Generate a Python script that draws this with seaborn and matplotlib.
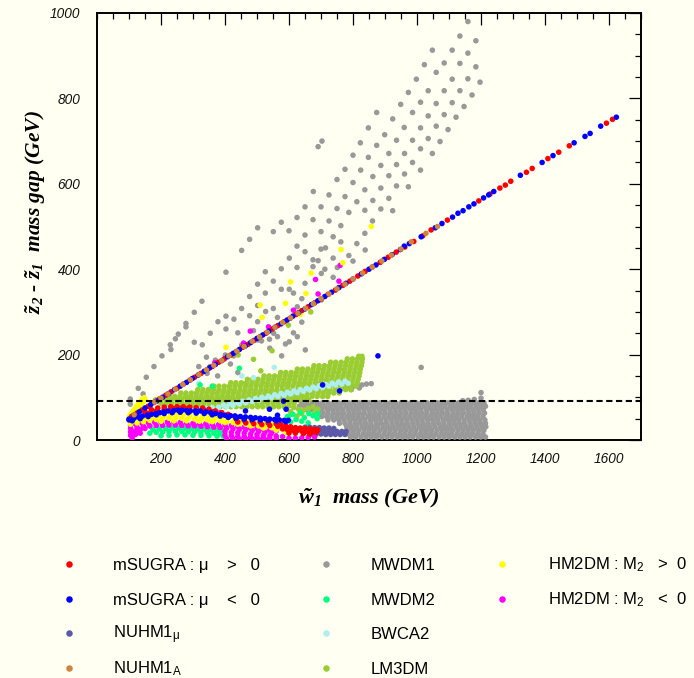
import matplotlib
matplotlib.use("Agg")
import matplotlib.pyplot as plt
from matplotlib.ticker import MultipleLocator
import pandas as pd
import seaborn as sns

# ---------------------------------------------------------------- data
# (wino mass, z2-z1 mass gap) in GeV for every scanned model point

msugra_pos_line = [(108,55),(125,63),(140,70),(160,79),(178,88),(195,96),(215,105),(232,113),(250,121),
    (270,131),(290,140),(305,147),(325,156),(345,165),(360,172),(380,182),(398,190),(418,199),(435,207),
    (455,217),(472,224),(490,233),(510,242),(528,250),(548,260),(565,268),(585,277),(603,285),(622,294),
    (640,303),(660,312),(680,321),(700,330),(722,341),(745,351),(768,362),(790,372),(815,384),(838,395),
    (860,405),(885,416),(910,428),(935,440),(962,452),(990,465),(1018,478),(1044,492),(1095,515),(1193,560),
    (1228,576),(1259,590),(1276,597),(1293,606),(1342,627),(1360,636),(1409,659),(1443,674),(1476,689),
    (1592,742),(1611,751)]
msugra_pos_low = [(150,66),(170,71),(190,75),(210,77),(230,78),(250,78),(270,78),(290,77),(310,76),(330,75),
    (350,72),(370,68),(390,64),(410,60),(430,56),(160,62),(185,68),(210,72),(235,74),(260,74),(285,74),
    (310,72),(335,70),(360,66),(385,60),(410,54),(435,49),(460,46),(485,44),(510,42),(535,40),(560,38),
    (440,42),(465,40),(490,38),(515,36),(540,34),(565,32),(575,36),(590,33),(605,31),(620,29),(635,28),
    (650,27),(665,26),(680,25),(690,24),(580,26),(595,24),(610,23),(625,22),(640,21),(655,20),(670,19),
    (685,18),(600,16),(620,16),(645,15),(665,14)]

msugra_neg_line = [(100,49),(115,58),(132,66),(150,75),(168,83),(186,91),(205,100),(224,109),(242,118),
    (260,126),(280,135),(298,144),(316,152),(335,161),(352,169),(370,177),(390,186),(408,195),(426,203),
    (445,212),(463,220),(480,228),(500,238),(518,246),(537,255),(556,264),(575,272),(594,281),(612,290),
    (630,298),(650,307),(670,317),(690,326),(712,336),(733,346),(756,357),(778,367),(800,377),(826,389),
    (850,400),(872,410),(898,423),(922,434),(948,446),(960,454),(976,460),(1013,476),(1057,497),(1078,507),
    (1111,522),(1128,531),(1144,537),(1162,546),(1178,553),(1208,567),(1224,574),(1240,582),(1323,620),
    (1391,650),(1425,666),(1491,696),(1525,711),(1541,718),(1574,735),(1623,756)]
msugra_neg_low = [(100,47),(116,51),(130,54),(142,56),(157,58),(170,60),(183,62),(196,64),(209,66),(222,68),
    (240,69),(253,70),(266,70),(280,69),(292,68),(308,68),(323,68),(340,66),(355,64),(370,62),(386,60),
    (400,58),(417,57),(432,56),(448,55),(464,54),(480,53),(495,52),(510,51),(525,50),(540,49),(555,48),
    (570,47),(585,46),(598,46),(110,45),(135,50),(160,55),(185,59),(210,62),(235,64),(260,65),(285,64),
    (310,63),(335,62),(360,59),(385,56),(410,53),(435,51),(460,49),(485,48),(510,47),(535,46),(560,45),
    (590,43),(583,91),(464,68),(539,72),(591,72),(705,129),(758,115),(878,197),(564,58)]

nuhm1_mu = [(650,30),(665,30),(680,29),(695,29),(710,28),(725,28),(740,27),(645,22),(660,22),(675,22),
    (690,22),(705,21),(720,21),(735,21),(750,20),(765,20),(778,20),(670,14),(685,14),(700,14),(715,13),
    (730,13),(745,13),(760,13),(775,13)]

nuhm1_a = [(116,59),(180,89),(200,98),(222,108),(245,119),(268,130),(292,141),(318,153),(342,164),(365,175),
    (390,186),(412,197),(437,208),(460,219),(485,231),(508,241),(532,252),(556,264),(580,275),(605,286),
    (628,297),(652,308),(676,319),(700,331),(725,342),(750,354),(775,365),(800,377),(830,391),(860,405),
    (890,419),(920,433),(950,447),(982,464),(1028,484),(1064,500)]

mwdm1_scan = [(1159,980),(1134,946),(1184,935),(1048,913),(1110,913),(1159,906),(1023,879),(1085,883),
    (1134,882),(1184,874),(1060,861),(998,845),(1110,845),(1159,846),(1197,838),(973,814),(1035,818),
    (1085,818),(1134,818),(1172,808),(949,786),(1011,791),(1060,788),(1110,790),(1147,781),(874,767),
    (986,767),(1035,759),(1085,762),(1122,756),(924,752),(848,731),(960,732),(1011,731),(1060,735),
    (1097,727),(899,715),(823,696),(874,690),(936,702),(986,702),(1035,706),(1072,699),(800,667),(848,662),
    (912,671),(961,671),(1011,682),(1048,671),(775,634),(824,632),(887,643),(936,645),(986,650),(1011,632),
    (750,610),(800,603),(862,617),(912,619),(961,623),(725,574),(775,570),(837,586),(887,590),(936,595),
    (973,593),(750,542),(812,558),(862,561),(912,566),(787,533),(837,538),(887,541),(924,537),(691,687),
    (703,700),(676,582),(650,546),(700,546),(576,510),(625,521),(675,516),(502,497),(551,488),(600,490),
    (650,480),(700,488),(477,470),(452,444),(625,454),(601,426),(650,441),(700,447),(675,422),(526,394),
    (576,401),(625,404),(675,406),(712,400),(403,393),(502,365),(551,372),(601,353),(650,367),(477,336),
    (526,344),(576,353),(614,344),(640,331),(452,308),(502,315),(551,308),(328,325),(304,299),(403,290),
    (428,283),(378,277),(477,291),(502,277),(564,287),(278,273),(278,265),(254,248),(245,237),(229,223),
    (231,212),(304,229),(329,223),(354,250),(403,260),(440,251),(489,256),(514,232),(539,236),(564,242),
    (589,225),(614,251),(640,276),(725,513),(762,502),(738,426),(738,381),(838,445),(691,420),(787,432),
    (701,390),(751,404),(800,419),(527,301),(626,312),(701,328),(203,197),(178,172),(154,147),(129,121),
    (104,96),(104,84),(452,222),(502,234),(552,250),(540,215),(577,197),(651,211),(626,242),(601,230),
    (377,150),(427,197),(353,172),(714,450),(738,476),(762,464),(812,460),(837,484),(861,513),(144,108),
    (342,194),(318,172),(401,199),(370,187),(344,156),(440,158),(417,178),(1013,170),(1200,111),(1200,98),
    (1143,92),(1160,93),(1179,95),(772,121),(786,124),(800,126),(814,127),(828,129),(842,131),(857,132),
    (795,118),(820,122)]
mwdm1_band = [
    (87, [640,656,672,689,704,722,738,755,770,787,803,820,836,852,869,884,901,917,933,950,966,981,998,
          1014,1031,1047,1063,1080,1096,1112,1129,1144,1161,1177,1193,1209]),
    (79, [632,648,665,681,697,713,730,746,762,779,794,811,827,843,860,876,892,908,925,941,957,973,990,
          1006,1022,1038,1055,1071,1087,1104,1120,1136,1152,1168,1185,1201,1214]),
    (71, [655,670,688,703,720,736,752,768,785,801,817,834,850,866,883,898,915,931,947,963,980,996,1012,
          1029,1045,1061,1077,1094,1110,1126,1142,1159,1175,1191,1207]),
    (63, [690,706,722,739,755,771,788,804,820,836,853,869,885,901,918,934,950,966,983,999,1015,1031,1048,
          1064,1080,1096,1113,1129,1145,1162,1178,1194,1211]),
    (55, [702,718,734,750,766,783,799,815,831,848,864,880,897,913,929,945,962,978,994,1010,1027,1043,1059,
          1075,1092,1108,1124,1140,1157,1173,1189,1206]),
    (47, [722,740,756,772,789,805,821,837,854,870,886,903,919,935,951,968,984,1000,1016,1033,1049,1065,
          1082,1098,1114,1130,1147,1163,1179,1195,1212]),
    (39, [758,775,791,808,824,840,856,873,889,905,922,938,954,970,987,1003,1019,1035,1052,1068,1084,1101,
          1117,1133,1149,1166,1182,1198,1214]),
    (31, [780,796,812,829,845,861,877,894,910,926,943,959,975,991,1008,1024,1040,1056,1073,1089,1105,1122,
          1138,1154,1170,1187,1203,1215]),
    (23, [786,802,818,835,851,867,884,900,916,932,949,965,981,997,1014,1030,1046,1063,1079,1095,1111,1128,
          1144,1160,1176,1193,1209]),
    (15, [783,799,815,832,848,864,880,897,913,929,946,962,978,994,1011,1027,1043,1059,1076,1092,1108,1125,
          1141,1157,1173,1190,1206]),
    (7,  [792,808,825,841,857,873,890,906,922,939,955,971,987,1004,1020,1036,1052,1069,1085,1101,1118,1134,
          1150,1166,1183,1199,1214]),
]

mwdm2 = [(175,24),(195,26),(215,27),(235,28),(255,28),(275,27),(295,27),(315,26),(335,25),(355,24),(375,23),
    (395,22),(165,16),(185,18),(205,19),(225,20),(245,20),(265,20),(285,19),(305,19),(325,18),(345,17),
    (365,16),(385,15),(200,10),(225,11),(250,12),(275,12),(300,11),(325,11),(350,10),(375,9),(395,9),
    (598,55),(612,60),(622,48),(635,64),(648,52),(660,40),(662,62),(675,57),(688,50),(690,62),(605,42),
    (640,44),(595,55),(322,129),(360,126),(445,168)]

bwca2 = [(395,82),(415,85),(435,88),(455,91),(475,94),(495,97),(515,100),(535,103),(555,106),(575,109),
    (595,112),(615,115),(635,118),(655,121),(675,124),(695,127),(715,130),(735,133),(755,136),(775,138),
    (405,78),(425,81),(445,84),(465,87),(485,90),(505,93),(525,96),(545,99),(565,102),(585,105),(605,108),
    (625,111),(645,114),(665,117),(685,120),(705,123),(725,126),(745,129),(765,131),(785,133),(300,70),
    (320,72),(340,74),(360,76),(380,77),(170,30),(195,32),(220,33),(245,33),(270,33),(295,32),(320,31),
    (345,30),(370,29),(182,28),(232,30),(282,30),(332,28),(453,150),(489,146),(554,170),(318,133)]

lm3dm_band = [
    (78,  [235,252,268,285,302,318,335,352,368,385,402,418,435,452,468,485,502,518,535,552,568,585]),
    (86,  [200,216,233,250,266,283,300,316,333,350,366,383,400,416,433,450,466,483,500,516,533,550,566,
           583,600,616]),
    (94,  [183,199,216,232,249,265,282,298,315,331,348,364,381,397,414,430,447,463,480,496,513,529,546,
           562,579,595,612,628,645,661]),
    (102, [210,226,243,259,276,292,309,325,342,358,375,391,408,424,441,457,474,490,507,523,540,556,573,
           589,606,622,639,655,672,688,705,721]),
    (110, [262,278,295,311,328,344,361,377,394,410,427,443,460,476,493,509,526,542,559,575,592,608,625,
           641,658,674,691,707,724,740,757]),
    (118, [315,331,348,364,381,397,414,430,447,463,480,496,513,529,546,562,579,595,612,628,645,661,678,
           694,711,727,744,760,777,793]),
    (126, [365,381,398,414,431,447,464,480,497,513,530,546,563,579,596,612,629,645,662,678,695,711,728,
           744,761,777,794,810]),
    (134, [418,434,451,467,484,500,517,533,550,566,583,599,616,632,649,665,682,698,715,731,748,764,781,
           797,814]),
    (142, [470,486,503,519,536,552,569,585,602,618,635,651,668,684,701,717,734,750,767,783,800,816]),
    (150, [522,538,555,571,588,604,621,637,654,670,687,703,720,736,753,769,786,802,819]),
    (158, [574,590,607,623,640,656,673,689,706,722,739,755,772,788,805,821]),
    (166, [626,642,659,675,692,708,725,741,758,774,791,807,823]),
    (174, [678,694,711,727,744,760,777,793,810,826]),
    (182, [730,746,763,779,796,812,828]),
    (190, [782,798,814,829]),
    (196, [818,828]),
]
lm3dm_extra = [(600,80),(615,76),(630,72),(645,70),(660,74),(675,78),(690,72),(605,66),(640,62),(680,64),
    (625,56),(441,199),(489,189),(512,162),(547,209),(598,269),(668,300)]

hm2dm_pos = [(101,55),(106,61),(112,67),(118,73),(124,79),(130,85),(136,90),(142,95),(148,99),(108,54),
    (114,60),(120,66),(126,72),(132,78),(138,84),(144,89),(150,94),(110,44),(130,47),(150,50),(170,53),
    (190,56),(210,58),(230,59),(250,59),(270,59),(290,58),(310,57),(330,56),(350,55),(370,54),(390,53),
    (410,52),(430,50),(450,48),(470,46),(490,44),(510,42),(530,40),(550,38),(570,35),(590,32),(605,29),
    (105,37),(125,40),(145,43),(165,46),(185,48),(205,50),(225,51),(245,51),(265,51),(285,50),(305,49),
    (325,48),(345,47),(365,46),(385,45),(405,43),(425,41),(445,39),(465,37),(485,35),(505,33),(525,31),
    (545,29),(565,27),(585,25),(600,22),(200,44),(240,45),(280,45),(320,44),(360,43),(400,41),(440,37),
    (480,33),(520,28),(560,23),(590,18),(763,446),(768,415),(669,391),(605,370),(653,343),(589,320),
    (510,316),(516,287),(635,294),(403,217),(857,500)]

hm2dm_neg = [(105,35),(120,38),(140,40),(160,41),(180,42),(200,42),(220,42),(240,42),(260,41),(280,40),
    (300,39),(320,38),(340,38),(360,37),(380,36),(400,35),(420,34),(440,32),(460,30),(480,28),(500,27),
    (520,25),(540,23),(560,21),(105,27),(125,30),(145,32),(165,33),(185,34),(205,34),(225,35),(245,35),
    (265,34),(285,33),(305,33),(325,32),(345,31),(365,30),(385,29),(405,28),(425,26),(445,25),(465,24),
    (485,22),(505,20),(525,18),(545,16),(105,19),(120,21),(135,24),(150,27),(400,20),(420,18),(440,17),
    (460,16),(480,14),(500,13),(520,11),(540,10),(560,9),(580,8),(105,11),(120,13),(135,16),(400,11),
    (420,10),(440,9),(460,8),(480,7),(500,6),(520,5),(540,4),(560,3),(600,4),(620,4),(640,5),(660,6),
    (680,7),(110,5),(405,3),(425,3),(445,2),(465,2),(485,2),(505,2),(525,1),(760,409),(756,372),(683,376),
    (691,342),(614,304),(536,265),(479,255),(458,227),(368,181),(384,64)]

z_mass = 91  # reference gap drawn as dashed line

legend_names = ["mSUGRA : \u03bc    >   0", "mSUGRA : \u03bc    <   0", r"NUHM1$_{\mathsf{\mu}}$",
                r"NUHM1$_{\mathsf{A}}$", "MWDM1", "MWDM2", "BWCA2", "LM3DM",
                r"HM2DM : M$_{\mathsf{2}}$   >  0", r"HM2DM : M$_{\mathsf{2}}$   <  0"]
legend_colors = ["#FF0000", "#0000FF", "#5A5AA8", "#CD853F", "#999999", "#00FF7F",
                 "#AFEEEE", "#9ACD32", "#FFFF00", "#FF00FF"]


def rows_to_pairs(rows):
    pairs = []
    for gap, masses in rows:
        pairs.extend((m, gap) for m in masses)
    return pairs


# drawing order: first series ends up underneath
series = [
    ("MWDM1", mwdm1_scan + rows_to_pairs(mwdm1_band)),
    ("LM3DM", rows_to_pairs(lm3dm_band) + lm3dm_extra),
    ("BWCA2", bwca2),
    ("MWDM2", mwdm2),
    ("NUHM1mu", nuhm1_mu),
    ("HM2DM-", hm2dm_neg),
    ("HM2DM+", hm2dm_pos),
    ("mSUGRA+", msugra_pos_low + msugra_pos_line),
    ("mSUGRA-", msugra_neg_low + msugra_neg_line),
    ("NUHM1A", nuhm1_a),
]
palette = {"MWDM1": "#999999", "LM3DM": "#9ACD32", "BWCA2": "#AFEEEE", "MWDM2": "#00FF7F",
           "NUHM1mu": "#5A5AA8", "HM2DM-": "#FF00FF", "HM2DM+": "#FFFF00", "mSUGRA+": "#FF0000",
           "mSUGRA-": "#0000FF", "NUHM1A": "#CD853F"}

records = [(m, g, name) for name, pts in series for m, g in pts]
df = pd.DataFrame(records, columns=["wino_mass", "gap", "model"])

# ---------------------------------------------------------------- style
BG = "#FFFFF2"
sns.set_theme(style="white")
plt.rcParams.update({
    "font.family": ["Liberation Sans", "DejaVu Sans"],
    "mathtext.fontset": "custom",
    "mathtext.rm": "Liberation Serif:italic:bold",
    "mathtext.it": "Liberation Serif:italic:bold",
    "mathtext.bf": "Liberation Serif:italic:bold",
    "mathtext.sf": "Liberation Sans",
})

W, H = 694, 678
fig = plt.figure(figsize=(W / 100, H / 100), dpi=100, facecolor=BG)
ax = fig.add_axes([97 / W, 1 - 440 / H, 544 / W, 427 / H])
ax.set_facecolor(BG)

sns.scatterplot(data=df, x="wino_mass", y="gap", hue="model", palette=palette,
                s=16, linewidth=0, edgecolor="none", legend=False, ax=ax, zorder=3)

ax.axhline(z_mass, color="black", lw=1.5, dashes=(3.0, 1.7), zorder=6)

ax.set_xlim(0, 1700)
ax.set_ylim(0, 1000)
xt = [200, 400, 600, 800, 1000, 1200, 1400, 1600]
yt = [0, 200, 400, 600, 800, 1000]
ax.set_xticks(xt, [str(v) for v in xt], fontstyle="italic", fontsize=9.8)
ax.set_yticks(yt, [str(v) for v in yt], fontstyle="italic", fontsize=9.8)
ax.xaxis.set_minor_locator(MultipleLocator(50))
ax.yaxis.set_minor_locator(MultipleLocator(50))
ax.tick_params(which="both", direction="in", top=True, right=True, color="black", labelcolor="#111111")
ax.tick_params(which="major", length=8.5, width=0.9)
ax.tick_params(which="minor", length=4.3, width=0.9)
ax.tick_params(axis="x", which="major", pad=8.5)
ax.tick_params(axis="y", which="major", pad=12)
for sp in ax.spines.values():
    sp.set_linewidth(1.4)
    sp.set_color("black")
ax.set_xlabel("")
ax.set_ylabel("")

label_font = dict(family="Liberation Serif", weight="bold", style="italic", color="black")
fig.text(369 / W, 1 - 503 / H, r"$\tilde{w}_{1}$  mass (GeV)", ha="center", va="baseline",
         size=16, **label_font)
fig.text(36 / W, 1 - 212 / H, r"$\tilde{z}_{2}$ - $\tilde{z}_{1}$  mass gap (GeV)", rotation=90,
         ha="center", va="center", size=15.5, **label_font)

# ---------------------------------------------------------------- legend
lax = fig.add_axes([0, 0, 1, 1], facecolor="none")
lax.set_xlim(0, W)
lax.set_ylim(H, 0)
lax.axis("off")
col_dot = [69, 326, 502]
col_txt = [113, 371, 548]
row_y = [564, 599, 633, 668]
slots = [(0, 0), (0, 1), (0, 2), (0, 3), (1, 0), (1, 1), (1, 2), (1, 3), (2, 0), (2, 1)]
for name, color, (c, r) in zip(legend_names, legend_colors, slots):
    lax.scatter([col_dot[c]], [row_y[r]], s=22, color=color, linewidths=0)
    lax.text(col_txt[c], row_y[r] + 6, name, ha="left", va="baseline", fontsize=12,
             family="Liberation Sans", color="black")

fig.savefig("out.png", dpi=100, facecolor=BG)
